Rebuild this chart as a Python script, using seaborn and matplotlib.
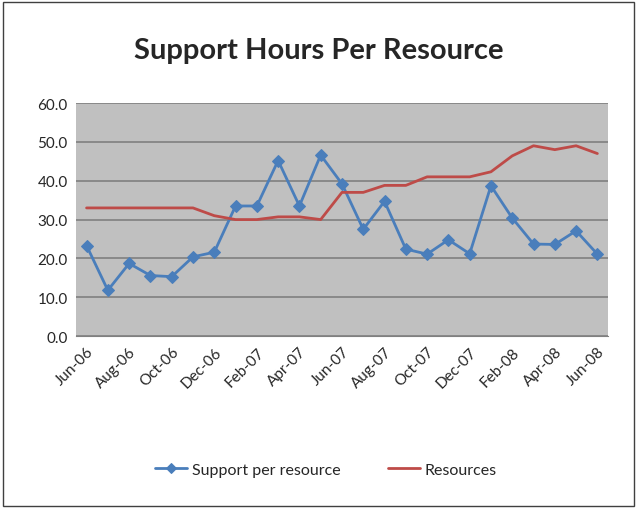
import matplotlib
matplotlib.use("Agg")
import matplotlib.pyplot as plt
import seaborn as sns
import pandas as pd
from matplotlib.patches import Rectangle

# ---------------- DATA ----------------
months = ["Jun-06", "Jul-06", "Aug-06", "Sep-06", "Oct-06", "Nov-06", "Dec-06",
          "Jan-07", "Feb-07", "Mar-07", "Apr-07", "May-07", "Jun-07", "Jul-07",
          "Aug-07", "Sep-07", "Oct-07", "Nov-07", "Dec-07", "Jan-08", "Feb-08",
          "Mar-08", "Apr-08", "May-08", "Jun-08"]
support = [23.3, 11.8, 18.7, 15.6, 15.3, 20.4, 21.6,
           33.5, 33.5, 45.2, 33.5, 46.6, 39.2, 27.5,
           34.7, 22.4, 21.1, 24.8, 21.2, 38.7, 30.4,
           23.7, 23.6, 27.1, 21.1]
resources = [33, 33, 33, 33, 33, 33, 31,
             30, 30, 30.7, 30.7, 30, 37, 37,
             38.8, 38.8, 41, 41, 41, 42.3, 46.4,
             49, 48, 49, 47]
yticks = [0, 10, 20, 30, 40, 50, 60]

df = pd.DataFrame({"month": months, "idx": range(len(months)),
                   "support": support, "resources": resources})

# ---------------- STYLE ----------------
sns.set_style("white")
plt.rcParams["font.family"] = ["Lato", "DejaVu Sans"]

fig = plt.figure(figsize=(6.38, 5.1), dpi=100)
ax = fig.add_axes([0.119, 0.339, 0.834, 0.457])
ax.set_facecolor("#C0C0C0")

sns.lineplot(data=df, x="idx", y="support", ax=ax, color="#4A7EBB",
             marker="D", markersize=6, markeredgecolor="#4A7EBB",
             linewidth=2, label="Support per resource")
sns.lineplot(data=df, x="idx", y="resources", ax=ax, color="#BE4B48",
             linewidth=2, label="Resources")

ax.set_xlim(-0.5, len(months) - 0.5)
ax.set_ylim(0, 60)
ax.set_yticks(yticks)
ax.set_yticklabels([f"{v:.1f}" for v in yticks], fontsize=11)
ax.yaxis.grid(True, color="#808080", linewidth=1.2)
ax.set_axisbelow(True)

ax.set_xticks(df["idx"][::2])
ax.set_xticklabels(df["month"][::2], rotation=45, ha="right",
                   rotation_mode="anchor", fontsize=11)
ax.tick_params(axis="both", length=0, pad=6)
ax.set_xlabel("")
ax.set_ylabel("")

for s in ax.spines.values():
    s.set_visible(False)
ax.spines["bottom"].set_visible(True)
ax.spines["bottom"].set_color("#808080")

ax.legend(loc="upper center", bbox_to_anchor=(0.47, -0.48), ncol=2,
          frameon=False, fontsize=11.5, handlelength=2.0, markerscale=0.8,
          handletextpad=0.3, columnspacing=3)

fig.text(0.5, 0.9, "Support Hours Per Resource", ha="center", va="center",
         fontsize=21, fontweight="bold")

fig.patches.append(Rectangle((0.004, 0.006), 0.99, 0.988, transform=fig.transFigure,
                             fill=False, edgecolor="#404040", linewidth=1))

plt.savefig("out.png", dpi=100)
